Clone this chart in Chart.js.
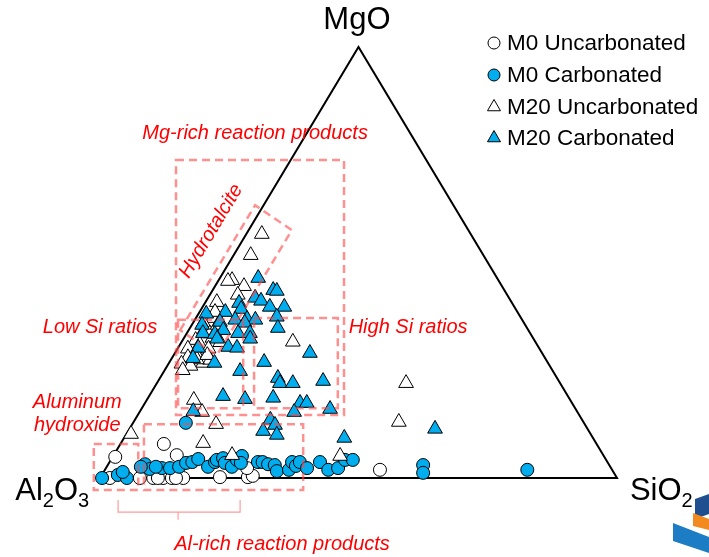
<!DOCTYPE html>
<html>
<head>
<meta charset="utf-8">
<script src="https://cdn.jsdelivr.net/npm/chart.js"></script>
<style>
  html, body { margin: 0; padding: 0; background: #fff; }
  #wrap { width: 709px; height: 557px; position: relative; }
</style>
</head>
<body>
<div id="wrap"><canvas id="c"></canvas></div>
<script>
// Oxide compositions (wt%) given as [SiO2, MgO]; Al2O3 is the balance to 100.
const m0Uncarbonated = [
  [0.5, 4.9], [8.4, 7.9], [12.2, 5.3], [53.2, 1.9], [1.9, 0], [7.7, 0], [10.3, 0],
  [12.2, 0], [13.9, 0], [16.1, 0], [23.1, 0.2], [28.5, 0.2], [29.3, 0.5], [14.7, 0],
  [11.2, 0], [27.3, 2.3]
];
const m0Carbonated = [
  [0.4, 0], [3.1, 0.7], [5.2, 0], [3.7, 1.4], [7.1, 3.2], [8.6, 2.1], [10.8, 2.3],
  [12.4, 2.3], [14.0, 2.6], [14.9, 3.5], [16.0, 3.7], [16.8, 4.4], [19.6, 2.6],
  [20.4, 3.7], [20.5, 4.2], [21.5, 4.6], [22.4, 3.5], [24.2, 2.6], [24.4, 4.2],
  [24.9, 5.1], [25.5, 3.5], [28.7, 3.7], [29.6, 3.7], [30.9, 3.2], [32.3, 3.0],
  [33.4, 1.6], [35.6, 1.9], [35.3, 3.7], [36.5, 2.8], [36.8, 3.7], [38.9, 2.3],
  [40.7, 3.7], [43.2, 1.9], [44.9, 2.3], [45.3, 4.2], [46.8, 4.2], [61.0, 3.0],
  [61.9, 1.2], [81.7, 1.9], [10.2, 12.8], [6.6, 2.6], [9.5, 2.6]
];
const m20Uncarbonated = [
  [3.0, 56.6], [3.3, 51.7], [2.6, 45.9], [1.9, 45.7], [5.6, 44.5], [5.4, 42.5],
  [2.2, 40.8], [3.1, 38.3], [3.3, 37.1], [21.5, 31.6], [6.6, 26.7], [7.6, 27.4],
  [9.1, 18.1], [12.1, 15.3], [48.2, 22.0], [51.3, 13.0], [0.9, 10.2], [15.9, 8.1],
  [16.2, 12.5], [22.9, 5.3], [43.9, 5.1],
  [2.0, 36.0], [3.0, 34.5], [4.5, 33.5], [2.5, 32.0], [3.8, 31.0], [5.5, 32.5],
  [2.0, 30.0], [4.0, 29.0], [6.0, 30.0], [3.0, 28.0], [5.0, 27.5], [2.5, 26.5],
  [4.5, 26.0], [3.5, 25.0], [6.5, 28.5], [7.5, 31.5], [3.0, 38.5], [5.0, 35.5]
];
const m20Carbonated = [
  [7.4, 46.4], [11.7, 43.6], [12.5, 43.4], [9.1, 41.8], [10.6, 41.1], [13.0, 39.7],
  [15.8, 39.7], [15.5, 37.4], [6.6, 40.6], [7.7, 39.2], [5.0, 38.5], [1.5, 38.1],
  [10.0, 36.9], [11.7, 36.7], [7.8, 36.7], [5.1, 36.2], [10.0, 36.0], [2.0, 35.5],
  [6.7, 34.3], [3.1, 33.6], [5.5, 33.4], [9.9, 33.6], [12.2, 33.6], [17.0, 34.8],
  [12.9, 32.3], [6.5, 32.3], [9.6, 30.4], [11.4, 30.2], [3.9, 30.2], [4.1, 27.8],
  [8.8, 26.7], [18.3, 26.9], [26.1, 29.0], [14.7, 24.8], [22.8, 23.2], [23.8, 22.0],
  [26.3, 22.0], [31.9, 22.5], [14.3, 19.0], [18.9, 18.3], [24.2, 18.6], [30.0, 17.4],
  [31.3, 17.4], [36.5, 16.0], [29.9, 15.3], [10.3, 15.5], [26.2, 13.5], [27.7, 12.3],
  [26.1, 10.9], [29.2, 10.0], [42.6, 9.3], [59.1, 11.4]
];
// Pure-oxide corners of the diagram, same [SiO2, MgO] convention.
const cornerAl2O3 = [0, 0];
const cornerSiO2 = [100, 0];
const cornerMgO = [0, 100];
const seriesNames = ['M0 Uncarbonated', 'M0 Carbonated', 'M20 Uncarbonated', 'M20 Carbonated'];

const BLUE = '#00aeef';
const FONT = '"Liberation Sans", Arial, sans-serif';

// Ternary -> cartesian: x runs Al2O3 -> SiO2 along the base, y is the MgO fraction.
function ternary(p) {
  const si = p[0], mg = p[1];
  return { x: (si + mg / 2) / 100, y: mg / 100 };
}

const frame = [cornerAl2O3, cornerSiO2, cornerMgO, cornerAl2O3].map(ternary);

// Dashed outlines of the phase regions, in plot units.
const regionBoxes = [
  [0.147, 0.738, 0.472, 0.146],   // Mg-rich reaction products
  [0.151, 0.367, 0.277, 0.162],   // Low Si ratios
  [0.298, 0.371, 0.460, 0.162],   // High Si ratios
  [0.085, 0.125, 0.393, -0.028],  // Al-rich reaction products
  [-0.012, 0.079, 0.074, -0.028]  // Aluminum hydroxide
];
const hydrotalciteBand = [[0.155, 0.343], [0.300, 0.633], [0.371, 0.575], [0.226, 0.285]];

const overlay = {
  id: 'overlay',
  afterDatasetsDraw(chart) {
    const { ctx } = chart;
    const sx = chart.scales.x, sy = chart.scales.y;
    const P = (X, Y) => [sx.getPixelForValue(X), sy.getPixelForValue(Y)];
    ctx.save();

    // region outlines
    ctx.strokeStyle = 'rgba(255,70,70,0.6)';
    ctx.lineWidth = 2.5;
    ctx.setLineDash([8, 5]);
    regionBoxes.forEach(b => {
      const [x0, y0] = P(b[0], b[1]);
      const [x1, y1] = P(b[2], b[3]);
      ctx.strokeRect(x0, y0, x1 - x0, y1 - y0);
    });
    ctx.beginPath();
    hydrotalciteBand.forEach((q, i) => {
      const [px, py] = P(q[0], q[1]);
      if (i === 0) ctx.moveTo(px, py); else ctx.lineTo(px, py);
    });
    ctx.closePath();
    ctx.stroke();

    // bracket under the Al-rich region
    ctx.setLineDash([]);
    ctx.lineWidth = 1.2;
    ctx.strokeStyle = 'rgba(255,90,90,0.6)';
    const [bl, bt] = P(0.035, -0.051);
    const [br, bb] = P(0.271, -0.079);
    const [bc, btip] = P(0.151, -0.097);
    ctx.beginPath();
    ctx.moveTo(bl, bt); ctx.lineTo(bl, bb); ctx.lineTo(br, bb); ctx.lineTo(br, bt);
    ctx.moveTo(bc, bb); ctx.lineTo(bc, btip);
    ctx.stroke();

    // region names
    ctx.fillStyle = '#ff0000';
    ctx.font = 'italic 20px ' + FONT;
    ctx.textAlign = 'center';
    ctx.textBaseline = 'middle';
    const label = (t, X, Y) => { const [px, py] = P(X, Y); ctx.fillText(t, px, py); };
    label('Mg-rich reaction products', 0.300, 0.800);
    label('Low Si ratios', 0.000, 0.350);
    label('High Si ratios', 0.596, 0.350);
    label('Aluminum', -0.044, 0.176);
    label('hydroxide', -0.044, 0.123);
    label('Al-rich reaction products', 0.352, -0.153);
    const [hx, hy] = P(0.215, 0.573);
    ctx.save();
    ctx.translate(hx, hy);
    ctx.rotate(-Math.atan2(sy.getPixelForValue(0) - sy.getPixelForValue(1),
                           sx.getPixelForValue(0.5) - sx.getPixelForValue(0)));
    ctx.fillText('Hydrotalcite', 0, 0);
    ctx.restore();

    // corner labels
    ctx.fillStyle = '#000';
    ctx.textAlign = 'center';
    ctx.textBaseline = 'alphabetic';
    ctx.font = '31px ' + FONT;
    const [mx, my] = P(0.497, 1.041);
    ctx.fillText('MgO', mx, my);
    const formula = (parts, X, Y) => {
      let [px, py] = P(X, Y);
      ctx.textAlign = 'left';
      parts.forEach(([t, sub]) => {
        ctx.font = (sub ? '20px ' : '31px ') + FONT;
        ctx.fillText(t, px, sub ? py + 7 : py);
        px += ctx.measureText(t).width;
      });
    };
    formula([['Al', 0], ['2', 1], ['O', 0], ['3', 1]], -0.164, -0.051);
    formula([['SiO', 0], ['2', 1]], 1.025, -0.051);

    // legend
    const rows = [43, 75, 107, 138];
    const mkX = chart.width - 215;
    ctx.font = '22.5px ' + FONT;
    ctx.textBaseline = 'middle';
    ctx.textAlign = 'left';
    chart.data.datasets.slice(1).forEach((ds, i) => {
      const yy = rows[i];
      ctx.beginPath();
      if (ds.pointStyle === 'triangle') {
        const r = 7.5;
        ctx.moveTo(mkX, yy - r);
        ctx.lineTo(mkX + r * 0.866, yy + r * 0.5);
        ctx.lineTo(mkX - r * 0.866, yy + r * 0.5);
        ctx.closePath();
      } else {
        ctx.arc(mkX, yy, 6, 0, Math.PI * 2);
      }
      ctx.fillStyle = ds.backgroundColor;
      ctx.fill();
      ctx.lineWidth = 1;
      ctx.strokeStyle = '#000';
      ctx.stroke();
      ctx.fillStyle = '#000';
      ctx.fillText(ds.label, mkX + 13, yy + 1);
    });
    ctx.restore();
  },
  afterDraw(chart) {
    // corner logo blocks
    const { ctx } = chart;
    const W = chart.width, H = chart.height;
    ctx.save();
    const poly = (pts, c) => {
      ctx.beginPath();
      pts.forEach(([a, b], i) => i ? ctx.lineTo(W - a, H - b) : ctx.moveTo(W - a, H - b));
      ctx.closePath();
      ctx.fillStyle = c;
      ctx.fill();
    };
    poly([[14, 58], [0, 63], [0, 43], [14, 38]], '#1f4f8f');
    poly([[16, 44], [0, 38], [0, 27], [16, 31]], '#f28a20');
    poly([[36, 34], [0, 20], [0, 4], [36, 16]], '#1c7dc4');
    ctx.restore();
  }
};

const pointDs = (name, data, style, fill, order, radius) => ({
  label: name,
  data: data.map(ternary),
  pointStyle: style,
  backgroundColor: fill,
  borderColor: '#000',
  borderWidth: 1,
  pointRadius: radius,
  showLine: false,
  order: order
});

new Chart(document.getElementById('c'), {
  type: 'scatter',
  data: {
    datasets: [
      {
        label: 'frame',
        data: frame,
        showLine: true,
        borderColor: '#000',
        borderWidth: 2,
        pointRadius: 0,
        fill: false,
        order: 10
      },
      pointDs(seriesNames[0], m0Uncarbonated, 'circle', '#ffffff', 4, 6.5),
      pointDs(seriesNames[1], m0Carbonated, 'circle', BLUE, 3, 6.5),
      pointDs(seriesNames[2], m20Uncarbonated, 'triangle', '#ffffff', 2, 8.5),
      pointDs(seriesNames[3], m20Carbonated, 'triangle', BLUE, 1, 8.5)
    ]
  },
  options: {
    responsive: true,
    maintainAspectRatio: false,
    animation: false,
    layout: { padding: 0, autoPadding: false },
    plugins: { legend: { display: false }, tooltip: { enabled: false } },
    scales: {
      x: { type: 'linear', display: false, min: -100 / 517, max: 609 / 517 },
      y: { type: 'linear', display: false, min: -79 / 431, max: 478 / 431 }
    }
  },
  plugins: [overlay]
});
</script>
</body>
</html>
